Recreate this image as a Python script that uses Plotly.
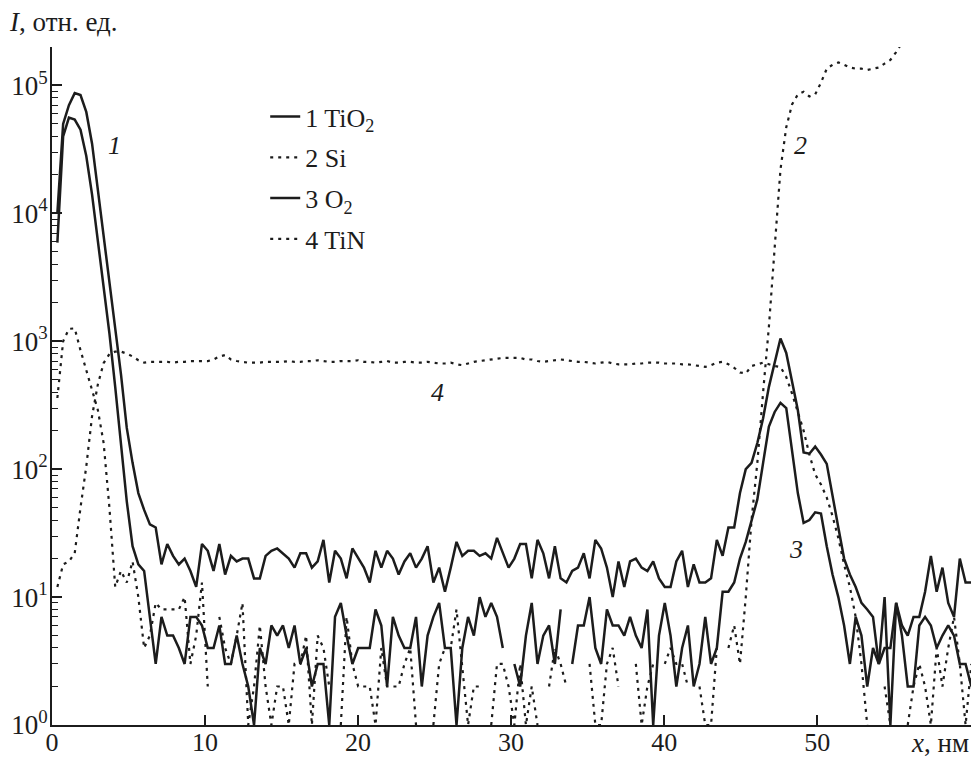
import plotly.graph_objects as go

# depth grid of the measurement (nm)
depth_start = 0.35
depth_step = 0.378

# intensities, rel. units
tio2 = [10000, 50000, 70000, 87000, 84000, 62000, 35000, 15500, 6800, 2900,
        1250, 550, 210, 112, 65, 48, 37, 35, 18, 26,
        21, 18, 20, 16, 12, 26, 23, 16, 26, 15,
        21, 19, 20, 20, 14, 14, 21, 23, 24, 22,
        20, 17, 22, 22, 17, 19, 28, 13, 23, 20,
        14, 24, 20, 17, 13, 23, 17, 23, 20, 15,
        19, 22, 17, 20, 25, 13, 17, 11, 17, 27,
        21, 23, 23, 21, 22, 20, 29, 22, 17, 20,
        26, 26, 14, 28, 22, 14, 25, 14, 13, 16,
        17, 22, 14, 28, 24, 17, 10, 19, 12, 19,
        20, 17, 16, 19, 14, 12, 12, 19, 23, 12,
        18, 13, 13, 14, 28, 21, 35, 35, 65, 100,
        112, 160, 250, 440, 700, 1050, 810, 490, 290, 135,
        132, 150, 130, 110, 60, 35, 20, 15, 12, 9,
        8, 7, 3, 4, 4, 9, 6, 5, 7, 7,
        11, 21, 11, 17, 9, 7, 20, 13, 13]

si = [360, 1000, 1250, 1260, 850, 590, 420, 290, 160, 50,
      12, 16, 13, 19, 10, 4, 5, 9, 8, 8,
      8, 8, 10, 3, 5, 13, 2, 0, 7, 4,
      3, 5, 9, 1, 2, 6, 2, 1, 2, 2,
      1, 3, 3, 5, 1, 5, 4, 2, 0, 1,
      7, 3, 2, 2, 2, 1, 4, 2, 2, 2,
      3, 4, 1, 0, 0, 1, 3, 4, 4, 8,
      3, 1, 2, 2, 0, 1, 3, 3, 2, 1,
      3, 1, 2, 1, 0, 2, 4, 3, 2, 0,
      3, 0, 3, 1, 1, 3, 4, 2, 0, 0,
      3, 1, 2, 3, 0, 3, 4, 3, 3, 2,
      0, 2, 1, 1, 4, 0, 4, 6, 3, 10,
      40, 112, 400, 1300, 5400, 22000, 47000, 71000, 85000, 89000,
      82000, 85000, 105000, 135000, 145000, 151000, 145000, 138000, 135000, 135000,
      132000, 135000, 138000, 148000, 158000, 182000, 215000]

o2 = [5900, 40000, 56000, 54000, 45000, 28000, 14000, 6300, 2750, 1150,
      440, 160, 56, 25, 18, 16, 7, 3, 7, 5,
      5, 4, 3, 7, 7, 6, 4, 4, 6, 3,
      3, 5, 3, 2, 1, 4, 3, 6, 5, 6,
      4, 6, 3, 4, 2, 3, 3, 1, 7, 9,
      5, 3, 4, 4, 4, 8, 6, 2, 7, 5,
      4, 4, 7, 2, 5, 7, 9, 4, 4, 1,
      4, 7, 5, 10, 7, 9, 7, 4, 0, 3,
      2, 5, 9, 3, 5, 6, 3, 8, 0, 3,
      6, 6, 10, 4, 3, 8, 6, 6, 5, 7,
      5, 4, 8, 1, 5, 9, 5, 2, 4, 6,
      2, 3, 7, 3, 4, 11, 11, 13, 20, 27,
      40, 58, 112, 215, 280, 330, 300, 140, 65, 38,
      40, 46, 45, 25, 15, 10, 6, 3, 7, 5,
      2, 4, 3, 10, 1, 9, 5, 2, 2, 6,
      7, 6, 4, 5, 6, 5, 3, 3, 2]

tin = [12, 18, 19, 22, 50, 105, 260, 460, 675, 795,
       830, 830, 800, 760, 710, 680, 690, 690, 690, 690,
       680, 690, 690, 700, 700, 700, 700, 720, 760, 780,
       720, 700, 690, 680, 680, 680, 690, 690, 690, 690,
       700, 690, 690, 700, 700, 710, 700, 690, 690, 700,
       700, 700, 710, 690, 690, 680, 690, 700, 680, 680,
       690, 690, 680, 680, 690, 680, 670, 670, 680, 660,
       650, 670, 690, 700, 710, 720, 730, 740, 740, 745,
       740, 720, 720, 700, 690, 700, 710, 720, 710, 700,
       690, 690, 680, 670, 680, 690, 670, 660, 660, 660,
       670, 670, 680, 680, 680, 670, 670, 670, 660, 660,
       650, 640, 630, 650, 680, 690, 660, 620, 570, 560,
       640, 660, 680, 660, 640, 630, 525, 390, 280, 200,
       130, 91, 76, 60, 43, 29, 18, 12, 7, 3,
       1, 0, 0, 2, 1, 0, 0, 1, 2, 3,
       2, 1, 4, 2, 4, 7, 3, 1, 3]

series_names = ["1 TiO<sub>2</sub>", "2 Si", "3 O<sub>2</sub>", "4 TiN"]
y_ticks = [1, 10, 100, 1000, 10000, 100000]
y_ticktext = ["10<sup>0</sup>", "10<sup>1</sup>", "10<sup>2</sup>",
              "10<sup>3</sup>", "10<sup>4</sup>", "10<sup>5</sup>"]
x_ticks = [0, 10, 20, 30, 40, 50]


def depth(n):
    return [round(depth_start + depth_step * i, 4) for i in range(n)]


def positive(vals):
    # zero counts cannot be shown on a log axis -> gap
    return [v if v > 0 else None for v in vals]


INK = "#1c1c1c"
SERIF = "Liberation Serif"

fig = go.Figure()
styles = [dict(width=2.5), dict(width=2.2, dash="3px,5px"),
          dict(width=2.5), dict(width=2.2, dash="3px,5px")]
for name, vals, st, grp in zip(series_names, [tio2, si, o2, tin], styles,
                               ["a", "b", "c", "d"]):
    fig.add_trace(go.Scatter(
        x=depth(len(vals)), y=positive(vals), mode="lines", name=name,
        legendgroup=grp, connectgaps=False,
        line=dict(color=INK, **st)))

fig.update_layout(
    width=973, height=758,
    margin=dict(l=52, r=2, t=47, b=33),
    paper_bgcolor="white", plot_bgcolor="white",
    font=dict(family=SERIF, size=20, color=INK),
    showlegend=True,
    legend=dict(x=0.232, y=0.932, xanchor="left", yanchor="top",
                bgcolor="rgba(0,0,0,0)", tracegroupgap=4,
                font=dict(family=SERIF, size=26, color=INK)),
)

fig.update_xaxes(
    range=[0, 60.05], tickmode="array", tickvals=x_ticks,
    ticktext=[str(v) for v in x_ticks],
    ticks="inside", ticklen=10, tickwidth=1.5, tickcolor=INK,
    showline=True, linewidth=2, linecolor=INK,
    showgrid=False, zeroline=False, ticklabelstandoff=-7,
    tickfont=dict(family=SERIF, size=26, color=INK))

fig.update_yaxes(
    type="log", range=[0, 5.3], tickmode="array", tickvals=y_ticks,
    ticktext=y_ticktext,
    ticks="inside", ticklen=10, tickwidth=1.5, tickcolor=INK,
    minor=dict(ticks="inside", ticklen=6, tickwidth=1.2, tickcolor=INK,
               dtick="D1", showgrid=False),
    showline=True, linewidth=2, linecolor=INK,
    showgrid=False, zeroline=False, ticklabelstandoff=-3,
    tickfont=dict(family=SERIF, size=27, color=INK))

annotations = [
    dict(text="<i>I</i>, отн. ед.", xref="paper", yref="paper",
         x=-0.049, y=1.037, xanchor="left", yanchor="middle",
         showarrow=False, font=dict(family=SERIF, size=27, color=INK)),
    dict(text="<i>x</i>, нм", xref="paper", yref="paper",
         x=1.0, y=-0.027, xanchor="right", yanchor="middle",
         showarrow=False, font=dict(family=SERIF, size=27, color=INK)),
]
curve_labels = [("1", 4.1, 4.53), ("2", 48.9, 4.53), ("3", 48.6, 1.375), ("4", 25.2, 2.6)]
for txt, xv, ylog in curve_labels:
    annotations.append(dict(text="<i>%s</i>" % txt, x=xv, y=ylog, xref="x", yref="y",
                            showarrow=False,
                            font=dict(family=SERIF, size=26, color=INK)))
fig.update_layout(annotations=annotations)

fig.write_html("out.html", config={"displayModeBar": False},
               post_script="document.body.style.margin='0';document.body.style.padding='0';")
